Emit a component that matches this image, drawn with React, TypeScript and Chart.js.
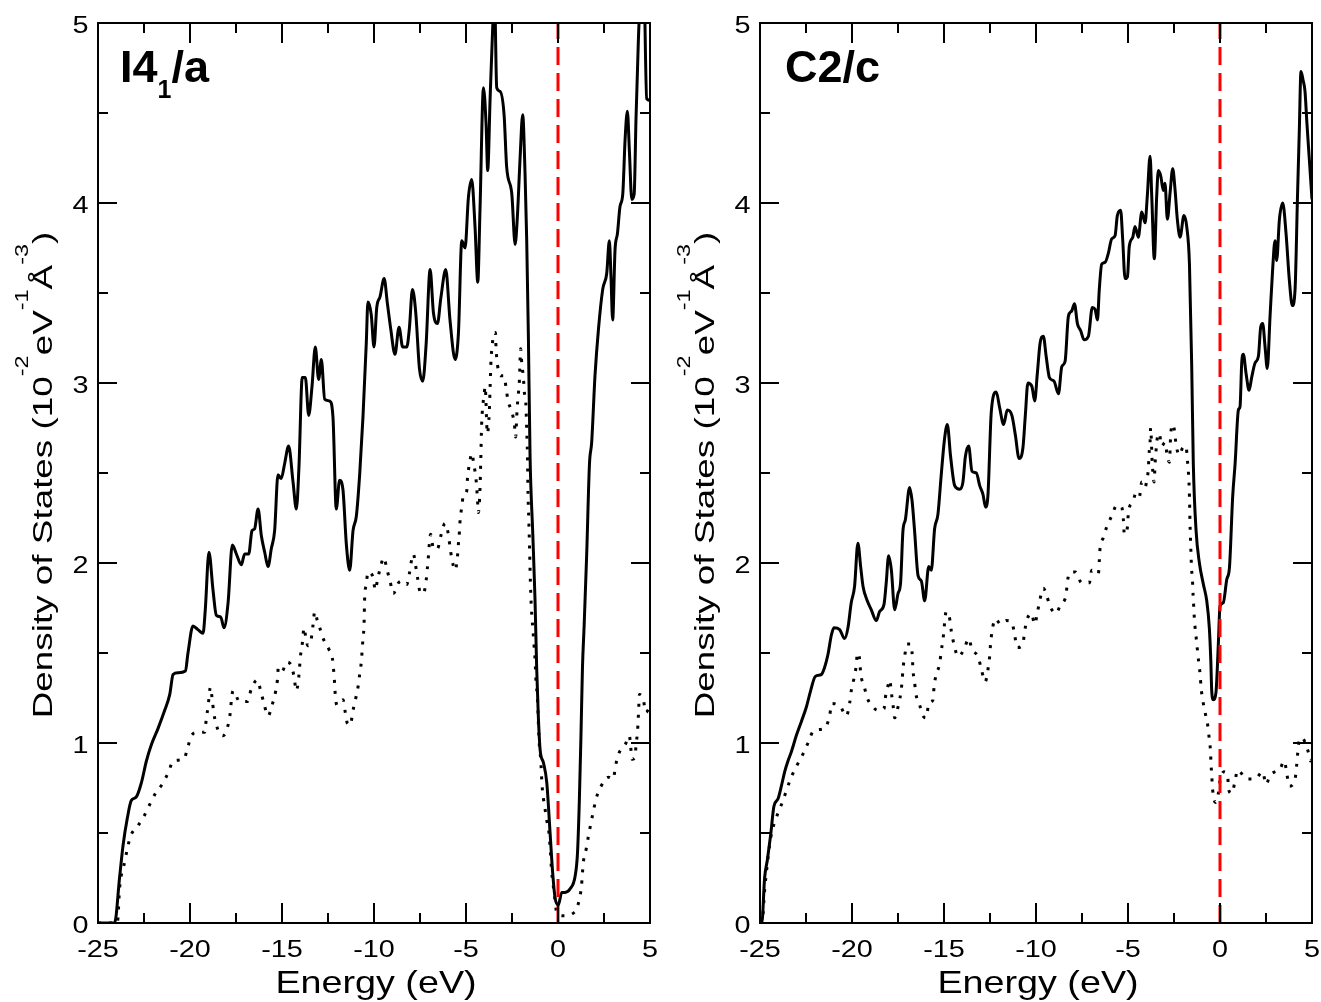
import React, { useEffect, useRef } from "react";
import { Chart, registerables } from "chart.js";

Chart.register(...registerables);

// ---------- axis ticks ----------
const xMajorTicks = [-25, -20, -15, -10, -5, 0, 5];
const xMinorTicks = [-22.5, -17.5, -12.5, -7.5, -2.5, 2.5];
const yMajorTicks = [0, 1, 2, 3, 4, 5];
const yMinorTicks = [0.5, 1.5, 2.5, 3.5, 4.5];
const xTickLabels = ["-25", "-20", "-15", "-10", "-5", "0", "5"];
const yTickLabels = ["0", "1", "2", "3", "4", "5"];

// ---------- Fermi level marker ----------
const fermiEnergy = [0, 0];
const fermiLevel = [0, 5];

// ---------- I4_1/a : total DOS (solid) ----------
const i41aTotalE = [
  -25, -24.1, -23.82, -23.64, -23.41, -23.19, -22.92, -22.64, -22.37, -22.1,
  -21.74, -21.38, -21.1, -20.92, -20.65, -20.25, -20.11, -19.84, -19.57, -19.29,
  -19.17, -18.97, -18.75, -18.57, -18.33, -18.15, -17.93, -17.7, -17.48, -17.21,
  -17.03, -16.81, -16.63, -16.49, -16.3, -16.12, -15.94, -15.76, -15.58, -15.4,
  -15.22, -15.04, -14.86, -14.64, -14.4, -14.22, -14.08, -13.9, -13.73, -13.55,
  -13.37, -13.19, -13.01, -12.86, -12.68, -12.41, -12.23, -12.05, -11.87, -11.69,
  -11.5, -11.32, -11.14, -10.96, -10.78, -10.6, -10.42, -10.33, -10.15, -10.0,
  -9.85, -9.67, -9.45, -9.27, -9.09, -8.86, -8.64, -8.44, -8.22, -8.08,
  -7.91, -7.73, -7.53, -7.35, -7.17, -6.95, -6.77, -6.55, -6.37, -6.1,
  -5.87, -5.59, -5.41, -5.23, -5.05, -4.87, -4.69, -4.51, -4.36, -4.24,
  -4.05, -3.91, -3.82, -3.69, -3.55, -3.45, -3.33, -3.15, -2.93, -2.79,
  -2.51, -2.33, -2.21, -2.06, -1.92, -1.79, -1.7, -1.61, -1.52, -1.37,
  -1.25, -1.16, -1.07, -0.97, -0.79, -0.61, -0.43, -0.29, -0.16, 0.02,
  0.2, 0.38, 0.66, 0.93, 1.06, 1.16, 1.25, 1.33, 1.42, 1.56,
  1.71, 1.83, 2.01, 2.2, 2.43, 2.65, 2.79, 2.88, 2.97, 3.1,
  3.23, 3.37, 3.52, 3.65, 3.77, 3.88, 4.01, 4.14, 4.24, 4.37,
  4.5, 4.65, 4.82, 5.0,
];
const i41aTotalDos = [
  0, 0, 0.26, 0.43, 0.58, 0.68, 0.7, 0.78, 0.9, 0.99,
  1.08, 1.18, 1.27, 1.38, 1.39, 1.4, 1.5, 1.65, 1.63, 1.61,
  1.74, 2.06, 1.85, 1.71, 1.7, 1.64, 1.78, 2.1, 2.05, 1.99,
  2.05, 2.05, 2.18, 2.19, 2.3, 2.15, 2.06, 1.98, 2.08, 2.18,
  2.49, 2.47, 2.55, 2.65, 2.45, 2.3, 2.53, 3.03, 3.03, 2.82,
  2.98, 3.2, 3.02, 3.13, 2.91, 2.9, 2.81, 2.3, 2.46, 2.41,
  2.1, 1.96, 2.18, 2.26, 2.49, 2.81, 3.22, 3.45, 3.38, 3.2,
  3.42, 3.48, 3.58, 3.44, 3.3, 3.16, 3.31, 3.2, 3.2, 3.3,
  3.52, 3.39, 3.08, 3.01, 3.21, 3.63, 3.39, 3.33, 3.47, 3.63,
  3.35, 3.13, 3.28, 3.79, 3.75, 4.03, 4.13, 3.87, 3.56, 3.96,
  4.64, 4.44, 4.18, 4.58, 4.97, 5.15, 4.64, 4.62, 4.49, 4.2,
  4.05, 3.77, 3.92, 4.25, 4.49, 4.16, 3.79, 3.26, 2.6, 2.16,
  1.8, 1.42, 1.15, 0.96, 0.89, 0.78, 0.5, 0.28, 0.14, 0.1,
  0.17, 0.17, 0.19, 0.26, 0.39, 0.68, 1.05, 1.42, 1.65, 2.05,
  2.55, 2.67, 3.04, 3.3, 3.52, 3.61, 3.79, 3.59, 3.35, 3.74,
  3.83, 3.98, 4.05, 4.36, 4.51, 4.29, 4.02, 4.05, 4.47, 4.91,
  5.2, 5.3, 4.58, 4.57,
];

// ---------- I4_1/a : partial DOS (dotted) ----------
const i41aPartialE = [
  -25, -23.95, -23.82, -23.55, -23.41, -23.24, -22.83, -22.52, -22.23, -21.88,
  -21.52, -21.16, -20.92, -20.34, -20.11, -19.93, -19.57, -19.2, -19.11, -19.02,
  -18.89, -18.79, -18.71, -18.57, -18.21, -17.93, -17.81, -17.75, -17.66, -17.3,
  -16.88, -16.67, -16.34, -16.16, -15.98, -15.76, -15.54, -15.36, -15.25, -15.2,
  -14.98, -14.76, -14.49, -14.35, -14.22, -14.13, -14.06, -14.0, -13.91, -13.8,
  -13.7, -13.59, -13.41, -13.32, -13.22, -13.08, -12.95, -12.72, -12.45, -12.26,
  -12.19, -12.14, -12.1, -12.01, -11.68, -11.56, -11.45, -11.27, -11.18, -11.01,
  -10.87, -10.78, -10.69, -10.6, -10.54, -10.51, -10.42, -10.33, -10.05, -9.93,
  -9.82, -9.69, -9.46, -9.31, -9.13, -8.95, -8.67, -8.49, -8.22, -8.08,
  -7.95, -7.86, -7.73, -7.62, -7.5, -7.32, -7.17, -7.1, -7.04, -6.99,
  -6.92, -6.77, -6.55, -6.37, -6.14, -5.96, -5.87, -5.78, -5.59, -5.47,
  -5.41, -5.36, -5.32, -5.23, -5.14, -4.96, -4.92, -4.81, -4.69, -4.56,
  -4.45, -4.38, -4.33, -4.24, -4.2, -4.15, -4.09, -4.02, -3.96, -3.84,
  -3.73, -3.69, -3.64, -3.58, -3.51, -3.4, -3.37, -3.33, -3.24, -3.11,
  -2.93, -2.82, -2.71, -2.51, -2.37, -2.3, -2.24, -2.19, -2.1, -2.03,
  -1.97, -1.88, -1.83, -1.75, -1.7, -1.66, -1.63, -1.59, -1.55, -1.52,
  -1.48, -1.43, -1.37, -1.3, -1.25, -1.19, -1.12, -1.07, -1.01, -0.94,
  -0.87, -0.79, -0.7, -0.61, -0.49, -0.43, -0.34, -0.21, -0.07, 0.29,
  0.89, 1.16, 1.27, 1.38, 1.53, 1.65, 1.78, 1.92, 2.07, 2.29,
  2.74, 3.01, 3.12, 3.3, 3.65, 3.88, 3.95, 4.02, 4.19, 4.24,
  4.32, 4.39, 4.42, 4.64, 4.77, 5.0,
];
const i41aPartialDos = [
  0, 0, 0.2, 0.34, 0.41, 0.48, 0.54, 0.59, 0.65, 0.72,
  0.77, 0.84, 0.9, 0.91, 0.98, 1.04, 1.06, 1.06, 1.14, 1.2,
  1.31, 1.24, 1.17, 1.1, 1.04, 1.1, 1.17, 1.24, 1.29, 1.23,
  1.23, 1.3, 1.35, 1.29, 1.22, 1.15, 1.21, 1.28, 1.35, 1.42,
  1.4, 1.45, 1.43, 1.37, 1.29, 1.33, 1.4, 1.48, 1.54, 1.64,
  1.58, 1.54, 1.58, 1.65, 1.73, 1.68, 1.64, 1.57, 1.52, 1.47,
  1.4, 1.33, 1.26, 1.21, 1.24, 1.17, 1.11, 1.1, 1.16, 1.24,
  1.31, 1.38, 1.45, 1.58, 1.66, 1.8, 1.88, 1.95, 1.92, 1.85,
  1.9, 1.96, 2.03, 1.97, 1.9, 1.83, 1.89, 1.9, 1.88, 1.94,
  2.02, 2.05, 1.98, 1.91, 1.84, 1.83, 1.9, 1.97, 2.04, 2.11,
  2.16, 2.08, 2.08, 2.15, 2.22, 2.16, 2.09, 2.03, 1.96, 2.03,
  2.11, 2.17, 2.24, 2.31, 2.38, 2.4, 2.47, 2.55, 2.61, 2.54,
  2.46, 2.36, 2.28, 2.41, 2.56, 2.77, 2.87, 2.93, 2.98, 2.72,
  2.85, 2.98, 3.13, 3.2, 3.27, 3.28, 3.2, 3.14, 3.07, 3.04,
  3.04, 2.97, 2.9, 2.84, 2.77, 2.7, 2.82, 2.9, 3.01, 3.19,
  3.11, 3.03, 2.95, 2.89, 2.74, 2.6, 2.39, 2.25, 2.1, 1.97,
  1.83, 1.72, 1.64, 1.54, 1.47, 1.33, 1.26, 1.12, 0.98, 0.91,
  0.77, 0.69, 0.63, 0.57, 0.5, 0.42, 0.28, 0.17, 0.06, 0.04,
  0.06, 0.13, 0.2, 0.34, 0.41, 0.48, 0.55, 0.62, 0.69, 0.75,
  0.81, 0.8, 0.87, 0.94, 0.99, 1.04, 0.98, 0.91, 0.92, 0.99,
  1.06, 1.2, 1.27, 1.24, 1.17, 1.2,
];

// ---------- C2/c : total DOS (solid) ----------
const c2cTotalE = [
  -25, -24.9, -24.75, -24.6, -24.42, -24.24, -24.02, -23.84, -23.66, -23.48,
  -23.3, -23.03, -22.75, -22.48, -22.25, -21.99, -21.67, -21.49, -21.31, -21.12,
  -20.98, -20.67, -20.4, -20.22, -20.04, -19.86, -19.68, -19.53, -19.4, -19.17,
  -18.95, -18.68, -18.5, -18.26, -18.14, -18.01, -17.86, -17.68, -17.5, -17.36,
  -17.23, -17.1, -16.87, -16.74, -16.6, -16.41, -16.23, -16.05, -15.83, -15.69,
  -15.51, -15.33, -15.15, -14.97, -14.82, -14.64, -14.42, -14.15, -13.97, -13.84,
  -13.66, -13.48, -13.24, -13.06, -12.88, -12.74, -12.61, -12.43, -12.16, -11.97,
  -11.76, -11.56, -11.31, -11.12, -10.92, -10.71, -10.58, -10.44, -10.22, -10.07,
  -9.93, -9.78, -9.6, -9.45, -9.27, -9.02, -8.78, -8.6, -8.42, -8.24,
  -8.06, -7.91, -7.75, -7.57, -7.39, -7.15, -6.94, -6.79, -6.66, -6.56,
  -6.43, -6.25, -6.07, -5.89, -5.7, -5.58, -5.4, -5.29, -5.16, -5.03,
  -4.93, -4.74, -4.62, -4.44, -4.25, -4.07, -3.95, -3.8, -3.71, -3.57,
  -3.44, -3.35, -3.22, -3.08, -2.99, -2.86, -2.71, -2.57, -2.44, -2.32,
  -2.17, -1.96, -1.81, -1.66, -1.54, -1.45, -1.3, -1.12, -0.9, -0.72,
  -0.58, -0.5, -0.45, -0.36, -0.22, -0.09, 0.0, 0.18, 0.37, 0.51,
  0.69, 0.82, 1.0, 1.09, 1.18, 1.27, 1.42, 1.58, 1.72, 1.9,
  2.09, 2.21, 2.32, 2.45, 2.57, 2.72, 2.86, 2.99, 3.08, 3.23,
  3.41, 3.59, 3.77, 3.93, 4.08, 4.21, 4.31, 4.4, 4.52, 4.62,
  4.72, 4.85, 5.0,
];
const c2cTotalDos = [
  0, 0, 0.25, 0.35, 0.49, 0.65, 0.69, 0.76, 0.84, 0.9,
  0.95, 1.04, 1.12, 1.2, 1.29, 1.37, 1.38, 1.42, 1.49, 1.6,
  1.64, 1.63, 1.58, 1.64, 1.78, 1.87, 2.11, 1.98, 1.87, 1.79,
  1.74, 1.68, 1.73, 1.77, 1.89, 2.04, 1.96, 1.74, 1.83, 1.89,
  2.18, 2.24, 2.42, 2.35, 2.18, 1.93, 1.9, 1.79, 1.98, 1.96,
  2.19, 2.27, 2.49, 2.69, 2.77, 2.59, 2.43, 2.41, 2.45, 2.59,
  2.65, 2.51, 2.5, 2.43, 2.38, 2.31, 2.38, 2.84, 2.95, 2.86,
  2.77, 2.85, 2.82, 2.71, 2.58, 2.64, 2.82, 3.0, 2.98, 2.9,
  3.05, 3.22, 3.26, 3.15, 3.03, 3.01, 2.94, 3.09, 3.12, 3.37,
  3.4, 3.44, 3.33, 3.29, 3.24, 3.26, 3.42, 3.41, 3.35, 3.52,
  3.66, 3.67, 3.72, 3.8, 3.82, 3.93, 3.96, 3.8, 3.58, 3.59,
  3.76, 3.81, 3.87, 3.81, 3.95, 3.89, 4.04, 4.26, 4.04, 3.69,
  4.04, 4.18, 4.15, 4.07, 4.11, 3.91, 4.06, 4.19, 4.07, 3.91,
  3.81, 3.93, 3.87, 3.66, 3.11, 2.55, 2.18, 2.0, 1.88, 1.79,
  1.64, 1.46, 1.29, 1.24, 1.28, 1.55, 1.76, 1.78, 1.91, 1.97,
  2.37, 2.55, 2.85, 2.87, 3.11, 3.16, 3.05, 2.96, 3.03, 3.11,
  3.15, 3.31, 3.33, 3.2, 3.08, 3.37, 3.63, 3.79, 3.68, 3.91,
  4.0, 3.83, 3.57, 3.43, 3.52, 4.03, 4.4, 4.73, 4.68, 4.62,
  4.45, 4.25, 4.02,
];

// ---------- C2/c : partial DOS (dotted) ----------
const c2cPartialE = [
  -25, -24.89, -24.75, -24.6, -24.48, -24.35, -24.2, -23.99, -23.75, -23.52,
  -23.26, -22.97, -22.66, -22.39, -22.07, -21.49, -21.22, -21.09, -20.62, -20.31,
  -20.13, -20.04, -19.89, -19.77, -19.71, -19.58, -19.53, -19.35, -19.17, -18.86,
  -18.55, -18.26, -18.19, -18.04, -17.95, -17.86, -17.77, -17.68, -17.5, -17.36,
  -17.28, -17.23, -17.14, -17.01, -16.81, -16.72, -16.69, -16.6, -16.54, -16.32,
  -16.14, -15.96, -15.83, -15.6, -15.54, -15.45, -15.24, -15.15, -15.05, -14.88,
  -14.69, -14.6, -14.46, -14.24, -13.91, -13.66, -13.48, -13.15, -12.97, -12.76,
  -12.61, -12.52, -12.47, -12.39, -12.21, -11.92, -11.61, -11.31, -11.16, -11.02,
  -10.71, -10.62, -10.47, -10.25, -10.07, -9.93, -9.8, -9.6, -9.42, -9.24,
  -8.91, -8.66, -8.37, -8.29, -8.11, -7.86, -7.52, -7.1, -6.97, -6.61,
  -6.56, -6.52, -6.34, -6.16, -5.89, -5.61, -5.34, -5.25, -5.2, -5.03,
  -4.98, -4.74, -4.56, -4.38, -4.25, -4.07, -3.98, -3.89, -3.86, -3.8,
  -3.77, -3.68, -3.58, -3.53, -3.48, -3.4, -3.3, -3.17, -2.99, -2.86,
  -2.75, -2.68, -2.59, -2.48, -2.39, -2.21, -2.03, -1.85, -1.77, -1.72,
  -1.66, -1.63, -1.59, -1.54, -1.5, -1.48, -1.44, -1.41, -1.37, -1.3,
  -1.23, -1.16, -1.08, -1.03, -0.94, -0.81, -0.67, -0.58, -0.52, -0.49,
  -0.45, -0.4, -0.25, -0.09, 0.0, 0.22, 0.42, 0.47, 0.64, 0.82,
  0.95, 1.09, 1.45, 1.9, 2.32, 2.5, 2.72, 2.99, 3.23, 3.5,
  3.63, 3.77, 4.08, 4.17, 4.22, 4.28, 4.44, 4.77, 4.93, 5.0,
];
const c2cPartialDos = [
  0, 0, 0.18, 0.33, 0.43, 0.51, 0.56, 0.62, 0.68, 0.75,
  0.82, 0.88, 0.94, 1.0, 1.07, 1.08, 1.15, 1.22, 1.2, 1.15,
  1.22, 1.29, 1.36, 1.43, 1.5, 1.46, 1.39, 1.32, 1.25, 1.2,
  1.18, 1.19, 1.25, 1.32, 1.35, 1.28, 1.21, 1.14, 1.2, 1.27,
  1.34, 1.41, 1.48, 1.55, 1.55, 1.48, 1.41, 1.34, 1.28, 1.21,
  1.15, 1.14, 1.22, 1.24, 1.31, 1.37, 1.44, 1.51, 1.58, 1.73,
  1.69, 1.62, 1.55, 1.48, 1.52, 1.58, 1.52, 1.48, 1.41, 1.34,
  1.41, 1.48, 1.55, 1.62, 1.69, 1.66, 1.68, 1.67, 1.6, 1.53,
  1.55, 1.62, 1.69, 1.72, 1.66, 1.72, 1.79, 1.86, 1.82, 1.76,
  1.72, 1.77, 1.82, 1.9, 1.95, 1.95, 1.89, 1.89, 1.96, 1.94,
  2.01, 2.08, 2.14, 2.2, 2.26, 2.32, 2.31, 2.24, 2.16, 2.2,
  2.28, 2.34, 2.39, 2.37, 2.45, 2.42, 2.46, 2.53, 2.6, 2.67,
  2.75, 2.55, 2.45, 2.55, 2.62, 2.7, 2.72, 2.65, 2.67, 2.59,
  2.56, 2.71, 2.77, 2.74, 2.66, 2.6, 2.64, 2.65, 2.57, 2.51,
  2.37, 2.22, 2.09, 1.96, 1.92, 1.86, 1.78, 1.72, 1.66, 1.59,
  1.52, 1.45, 1.38, 1.31, 1.24, 1.17, 1.1, 1.02, 0.96, 0.89,
  0.82, 0.74, 0.67, 0.72, 0.79, 0.84, 0.81, 0.74, 0.72, 0.79,
  0.85, 0.84, 0.8, 0.8, 0.84, 0.77, 0.82, 0.84, 0.85, 0.9,
  0.83, 0.76, 0.8, 0.88, 0.94, 1.0, 1.03, 0.96, 0.9, 0.92,
];

// ---------- text ----------
const xAxisTitle = "Energy (eV)";
const yAxisTitleParts = [
  { t: "Density of States (10", sup: false },
  { t: "-2", sup: true },
  { t: "eV", sup: false },
  { t: "-1", sup: true },
  { t: "Å", sup: false },
  { t: "-3", sup: true },
  { t: ")", sup: false },
];
const leftLabelParts = [
  { t: "I4", sub: false },
  { t: "1", sub: true },
  { t: "/a", sub: false },
];
const rightLabelParts = [{ t: "C2/c", sub: false }];

const FONT = '"Liberation Sans", Arial, Helvetica, sans-serif';

function toPoints(xs: number[], ys: number[]) {
  const n = Math.min(xs.length, ys.length);
  const out: { x: number; y: number }[] = [];
  for (let i = 0; i < n; i++) out.push({ x: xs[i], y: ys[i] });
  return out;
}

function stretchedText(
  ctx: CanvasRenderingContext2D,
  text: string,
  x: number,
  y: number,
  sx: number,
  align: CanvasTextAlign
) {
  ctx.save();
  ctx.translate(x, y);
  ctx.scale(sx, 1);
  ctx.textAlign = align;
  ctx.textBaseline = "alphabetic";
  ctx.fillText(text, 0, 0);
  ctx.restore();
}

type PanelCfg = {
  labelParts: { t: string; sub: boolean }[];
  labelX: number;
  yTitleX: number;
};

function makeDecor(cfg: PanelCfg) {
  return {
    id: "panelDecor",
    afterDatasetsDraw(chart: any) {
      const { ctx, chartArea: a } = chart;
      const xs = chart.scales.x;
      const ys = chart.scales.y;
      ctx.save();
      ctx.strokeStyle = "#000";
      ctx.fillStyle = "#000";
      ctx.lineCap = "butt";
      // inward ticks on all four sides
      ctx.lineWidth = 2;
      ctx.beginPath();
      const seg = (x1: number, y1: number, x2: number, y2: number) => {
        ctx.moveTo(x1, y1);
        ctx.lineTo(x2, y2);
      };
      xMajorTicks.forEach((v) => {
        const p = Math.round(xs.getPixelForValue(v));
        seg(p, a.bottom, p, a.bottom - 20);
        seg(p, a.top, p, a.top + 20);
      });
      xMinorTicks.forEach((v) => {
        const p = Math.round(xs.getPixelForValue(v));
        seg(p, a.bottom, p, a.bottom - 10);
        seg(p, a.top, p, a.top + 10);
      });
      yMajorTicks.forEach((v) => {
        const p = Math.round(ys.getPixelForValue(v));
        seg(a.left, p, a.left + 19, p);
        seg(a.right, p, a.right - 19, p);
      });
      yMinorTicks.forEach((v) => {
        const p = Math.round(ys.getPixelForValue(v));
        seg(a.left, p, a.left + 10, p);
        seg(a.right, p, a.right - 10, p);
      });
      ctx.stroke();
      // frame
      ctx.lineWidth = 2;
      ctx.strokeRect(a.left, a.top, a.right - a.left, a.bottom - a.top);

      // tick labels
      ctx.font = `24px ${FONT}`;
      xMajorTicks.forEach((v, i) => {
        stretchedText(ctx, xTickLabels[i], xs.getPixelForValue(v), a.bottom + 34, 1.2, "center");
      });
      yMajorTicks.forEach((v, i) => {
        stretchedText(ctx, yTickLabels[i], a.left - 9.5, ys.getPixelForValue(v) + 10.3, 1.2, "right");
      });

      // x axis title
      ctx.font = `31.7px ${FONT}`;
      stretchedText(ctx, xAxisTitle, (a.left + a.right) / 2 + 2, 993, 1.19, "center");

      // y axis title (rotated, with superscripts)
      {
        const mainFont = `27.5px ${FONT}`;
        const supFont = `17.5px ${FONT}`;
        const sx = 1.34;
        let total = 0;
        yAxisTitleParts.forEach((p) => {
          ctx.font = p.sup ? supFont : mainFont;
          total += ctx.measureText(p.t).width;
        });
        ctx.save();
        ctx.translate(cfg.yTitleX, (a.top + a.bottom) / 2 + 2);
        ctx.rotate(-Math.PI / 2);
        ctx.scale(sx, 1);
        ctx.textAlign = "left";
        ctx.textBaseline = "alphabetic";
        let x = -total / 2;
        yAxisTitleParts.forEach((p) => {
          ctx.font = p.sup ? supFont : mainFont;
          ctx.fillText(p.t, x, p.sup ? -24 : 0);
          x += ctx.measureText(p.t).width;
        });
        ctx.restore();
      }

      // panel label (bold, with subscript)
      {
        let x = cfg.labelX;
        ctx.textAlign = "left";
        ctx.textBaseline = "alphabetic";
        cfg.labelParts.forEach((p) => {
          ctx.font = p.sub ? `bold 25px ${FONT}` : `bold 45px ${FONT}`;
          ctx.fillText(p.t, x, p.sub ? 98 : 82);
          x += ctx.measureText(p.t).width;
        });
      }
      ctx.restore();
    },
  };
}

type PanelProps = {
  left: number;
  width: number;
  padLeft: number;
  padRight: number;
  totalE: number[];
  totalDos: number[];
  partialE: number[];
  partialDos: number[];
  cfg: PanelCfg;
};

function Panel(props: PanelProps) {
  const ref = useRef<HTMLCanvasElement | null>(null);
  useEffect(() => {
    if (!ref.current) return;
    const chart = new Chart(ref.current, {
      type: "line",
      data: {
        datasets: [
          {
            label: "Fermi level",
            data: toPoints(fermiEnergy, fermiLevel),
            borderColor: "#ff0000",
            borderWidth: 3,
            borderDash: [18, 8],
            pointRadius: 0,
            fill: false,
            order: 0,
          },
          {
            label: "Total",
            data: toPoints(props.totalE, props.totalDos),
            borderColor: "#000000",
            borderWidth: 3,
            pointRadius: 0,
            fill: false,
            cubicInterpolationMode: "monotone",
            order: 1,
          },
          {
            label: "Partial",
            data: toPoints(props.partialE, props.partialDos),
            borderColor: "#000000",
            borderWidth: 3,
            borderDash: [3, 8],
            borderCapStyle: "butt",
            pointRadius: 0,
            fill: false,
            cubicInterpolationMode: "monotone",
            order: 2,
          },
        ] as any,
      },
      options: {
        animation: false,
        responsive: false,
        maintainAspectRatio: false,
        events: [],
        layout: {
          padding: { left: props.padLeft, right: props.padRight, top: 23, bottom: 79 },
        },
        plugins: {
          legend: { display: false },
          tooltip: { enabled: false },
          title: { display: false },
        },
        scales: {
          x: { type: "linear", min: -25, max: 5, display: false },
          y: { type: "linear", min: 0, max: 5, display: false },
        },
      },
      plugins: [makeDecor(props.cfg)],
    });
    return () => chart.destroy();
  }, []);
  return (
    <canvas
      ref={ref}
      width={props.width}
      height={1002}
      style={{ position: "absolute", left: props.left, top: 0, width: props.width, height: 1002, display: "block" }}
    />
  );
}

export default function App() {
  return (
    <div style={{ position: "absolute", left: 0, top: 0, width: 1321, height: 1002, background: "#fff", overflow: "hidden" }}>
      <Panel
        left={0}
        width={660}
        padLeft={98}
        padRight={10}
        totalE={i41aTotalE}
        totalDos={i41aTotalDos}
        partialE={i41aPartialE}
        partialDos={i41aPartialDos}
        cfg={{ labelParts: leftLabelParts, labelX: 120, yTitleX: 52 }}
      />
      <Panel
        left={660}
        width={661}
        padLeft={100}
        padRight={9}
        totalE={c2cTotalE}
        totalDos={c2cTotalDos}
        partialE={c2cPartialE}
        partialDos={c2cPartialDos}
        cfg={{ labelParts: rightLabelParts, labelX: 125, yTitleX: 54 }}
      />
    </div>
  );
}
